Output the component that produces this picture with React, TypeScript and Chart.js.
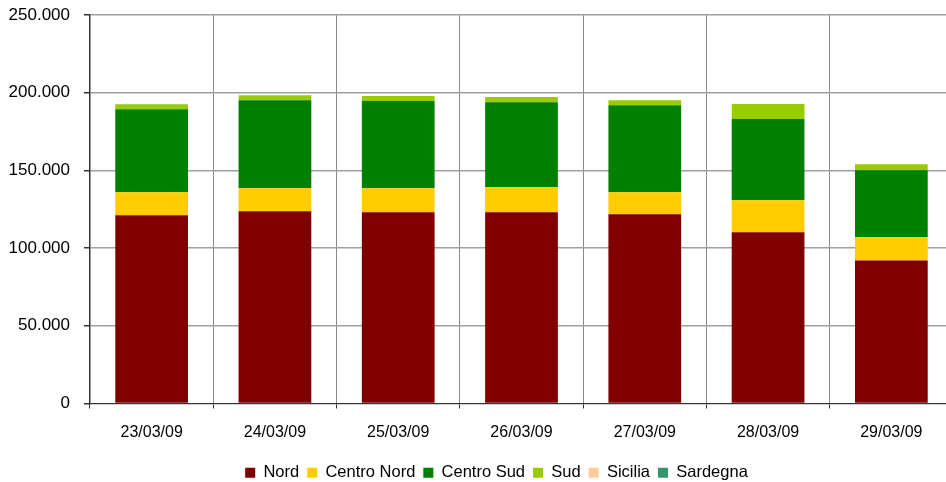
import React, { useEffect, useRef } from "react";
import { Chart, registerables } from "chart.js";

Chart.register(...registerables);

const categories = ["23/03/09", "24/03/09", "25/03/09", "26/03/09", "27/03/09", "28/03/09", "29/03/09"];
const nord = [121100, 123700, 123100, 123100, 121800, 110200, 92100];
const centroNord = [14900, 14800, 15400, 16100, 14200, 20600, 14900];
const centroSud = [53400, 56700, 56100, 54700, 56000, 52200, 43100];
const sud = [3200, 3200, 3200, 3300, 3200, 9700, 3900];
const sicilia = [0, 0, 0, 0, 0, 0, 0];
const sardegna = [0, 0, 0, 0, 0, 0, 0];
const yTicks = [0, 50000, 100000, 150000, 200000, 250000];

const seriesNames = ["Nord", "Centro Nord", "Centro Sud", "Sud", "Sicilia", "Sardegna"];
const seriesColors = ["#800000", "#FFCC00", "#008000", "#99CC00", "#FFCC99", "#339966"];

const fmt = (v: number) => String(Math.round(v)).replace(/\B(?=(\d{3})+(?!\d))/g, ".");
const FONT = "'Liberation Sans', Arial, sans-serif";

export default function App() {
  const ref = useRef<HTMLCanvasElement | null>(null);
  useEffect(() => {
    if (!ref.current) return;
    const values = [nord, centroNord, centroSud, sud, sicilia, sardegna];
    const chart = new Chart(ref.current, {
      type: "bar",
      data: {
        labels: categories,
        datasets: values.map((d, i) => ({
          label: seriesNames[i],
          data: d,
          backgroundColor: seriesColors[i],
          borderWidth: 0,
          barPercentage: 0.59,
          categoryPercentage: 1,
        })),
      },
      options: {
        animation: false,
        responsive: false,
        devicePixelRatio: 1,
        layout: { padding: { top: 15, right: 0, left: 0, bottom: 0 } },
        plugins: {
          tooltip: { enabled: false },
          legend: {
            position: "bottom",
            labels: {
              color: "#000",
              font: { family: FONT, size: 16.5 },
              boxWidth: 10,
              boxHeight: 10,
              padding: 8,
            },
          },
        },
        scales: {
          x: {
            stacked: true,
            offset: true,
            grid: {
              display: true,
              offset: true,
              color: "#8a8a8a",
              lineWidth: 1,
              tickLength: 5,
              tickColor: "#333",
            },
            border: { display: true, color: "#333", width: 1 },
            ticks: {
              color: "#000",
              font: { family: FONT, size: 16 },
              padding: 14,
              maxRotation: 0,
            },
            afterFit: (s: any) => {
              s.height = 53;
            },
          },
          y: {
            stacked: true,
            min: 0,
            max: 250000,
            afterBuildTicks: (s: any) => {
              s.ticks = yTicks.map((v) => ({ value: v }));
            },
            grid: {
              color: "#a0a0a0",
              lineWidth: 1.5,
              tickLength: 6,
              tickColor: "#333",
            },
            border: { display: true, color: "#333", width: 1.5 },
            ticks: {
              color: "#000",
              font: { family: FONT, size: 17 },
              padding: 14,
              callback: (v: any) => fmt(Number(v)),
            },
            afterFit: (s: any) => {
              s.width = 90;
              s.paddingTop = 0;
              s.paddingBottom = 0;
            },
          },
          yRight: {
            position: "right",
            display: true,
            min: 0,
            max: 250000,
            grid: { display: false, drawOnChartArea: false },
            border: { display: false },
            ticks: { display: false },
            afterFit: (s: any) => {
              s.width = 40;
              s.paddingTop = 0;
              s.paddingBottom = 0;
            },
          },
        },
      },
    });
    return () => chart.destroy();
  }, []);
  return (
    <div style={{ position: "fixed", left: 0, top: 0, width: 946, height: 482, overflow: "hidden", background: "#fff" }}>
      <canvas ref={ref} width={993} height={491} style={{ display: "block", width: 993, height: 491 }} />
    </div>
  );
}
